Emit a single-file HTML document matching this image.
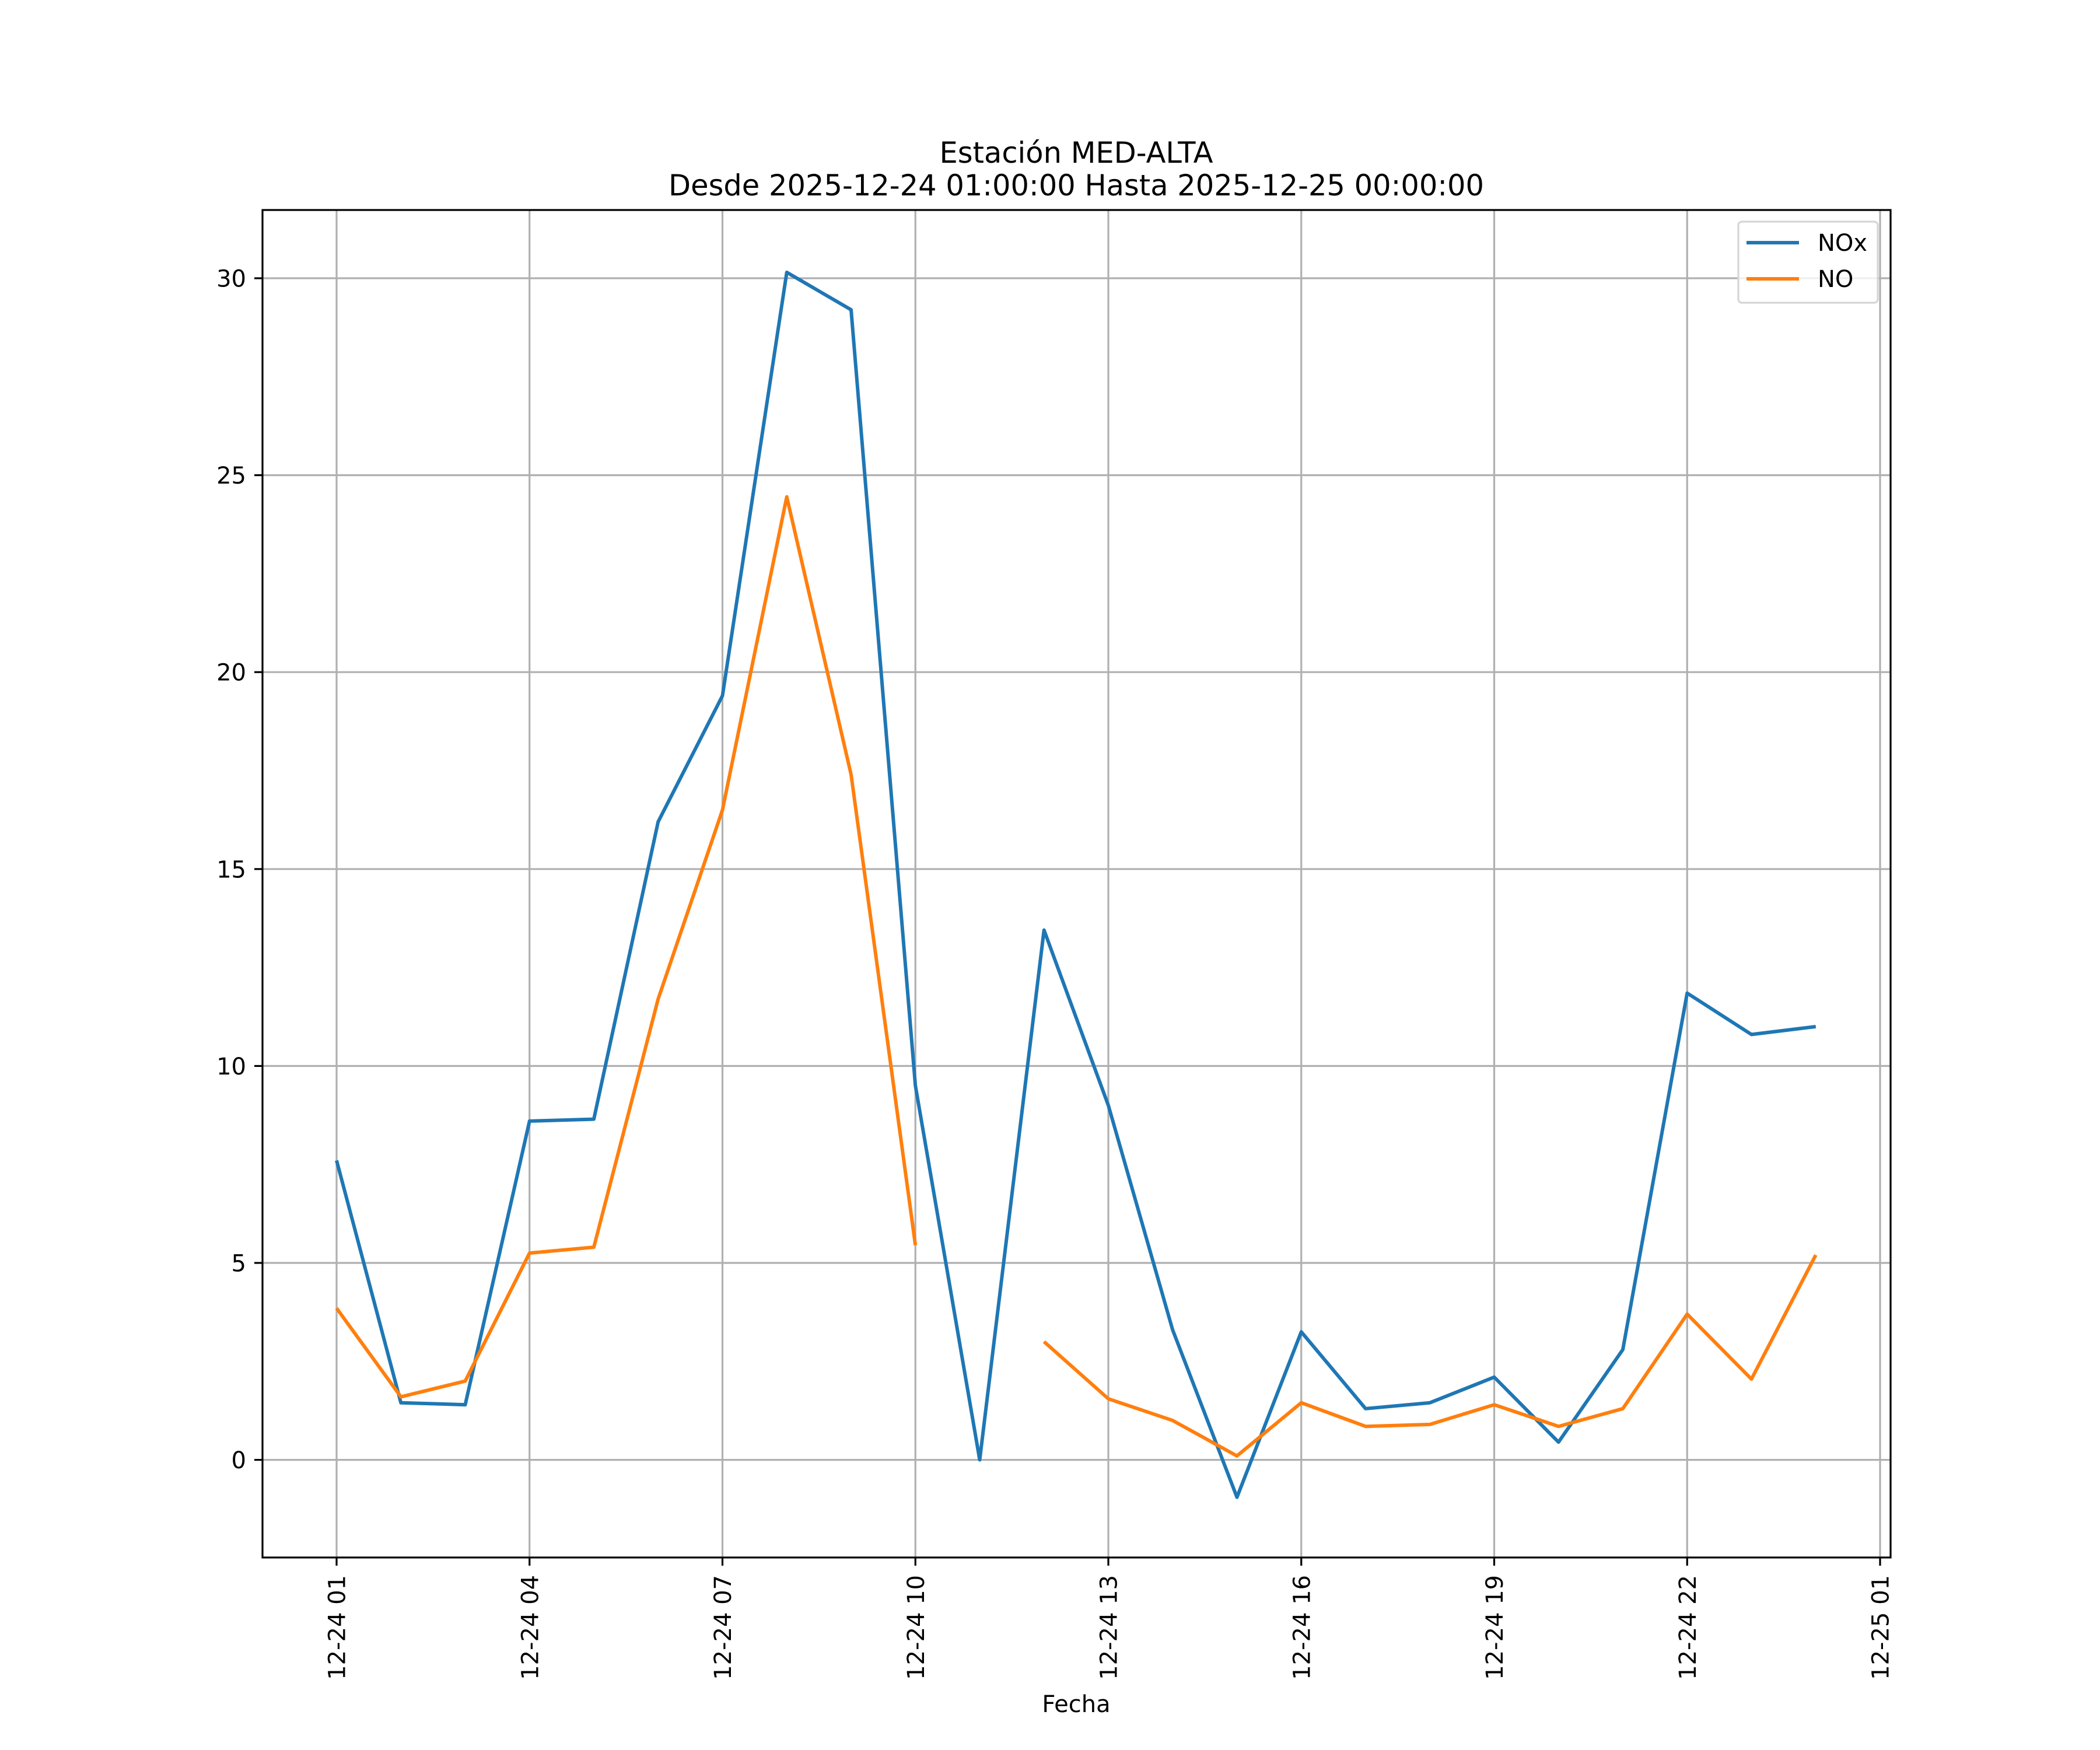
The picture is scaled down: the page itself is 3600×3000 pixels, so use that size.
<!DOCTYPE html>
<html><head><meta charset="utf-8"><style>
html,body{margin:0;padding:0;background:#fff;}
svg{display:block;font-family:"DejaVu Sans","Liberation Sans",sans-serif;}
</style></head><body>
<svg id="chart" width="3600" height="3000" viewBox="0 0 3600 3000" xmlns="http://www.w3.org/2000/svg">
<rect x="0" y="0" width="3600" height="3000" fill="#fff"/>
<text x="1845" y="279" font-size="49.5" text-anchor="middle">Estación MED-ALTA</text>
<text x="1845" y="335" font-size="49.5" text-anchor="middle">Desde 2025-12-24 01:00:00 Hasta 2025-12-25 00:00:00</text>
<g id="grid"></g>
<g id="series"></g>
<rect x="450" y="360" width="2791" height="2310" fill="none" stroke="#000" stroke-width="3.2"/>
<g id="ticks"></g>
<text x="1845" y="2935" font-size="40" text-anchor="middle">Fecha</text>
<g>
<rect x="2980" y="380" width="239" height="139" rx="6" fill="#fff" fill-opacity="0.8" stroke="#d6d6d6" stroke-width="3.2"/>
<line x1="2994" y1="416" x2="3084" y2="416" stroke="#1f77b4" stroke-width="6"/>
<text x="3116" y="430" font-size="40">NOx</text>
<line x1="2994" y1="478" x2="3084" y2="478" stroke="#ff7f0e" stroke-width="6"/>
<text x="3116" y="492" font-size="40">NO</text>
</g>
</svg>
<script>
const hours = [1,2,3,4,5,6,7,8,9,10,11,12,13,14,15,16,17,18,19,20,21,22,23,24];
const noxValues = [7.6,1.45,1.4,8.6,8.65,16.2,19.4,30.15,29.2,9.5,0.0,13.45,9.0,3.3,-0.95,3.25,1.3,1.45,2.1,0.45,2.8,11.85,10.8,11.0];
const noValues = [3.85,1.6,2.0,5.25,5.4,11.7,16.5,24.45,17.4,5.45,null,3.0,1.55,1.0,0.1,1.45,0.85,0.9,1.4,0.85,1.3,3.7,2.05,5.2];
const yTicks = [0,5,10,15,20,25,30];
const xTickHours = [1,4,7,10,13,16,19,22,25];
const xTickLabels = ["12-24 01","12-24 04","12-24 07","12-24 10","12-24 13","12-24 16","12-24 19","12-24 22","12-25 01"];

const NS = "http://www.w3.org/2000/svg";
const plotL = 450, plotR = 3241, plotT = 360, plotB = 2670;
const pxPerHour = (3223-577)/24;
const pxPerUnit = (2502.6-477)/30;
function xs(h){ return 577 + (h-1)*pxPerHour; }
function ys(v){ return 2502.6 - v*pxPerUnit; }

const grid = document.getElementById('grid');
const ticks = document.getElementById('ticks');
yTicks.forEach(v=>{
  const y = ys(v);
  const g = document.createElementNS(NS,'line');
  
  
  g.setAttribute('x1',plotL); g.setAttribute('x2',plotR); g.setAttribute('y1',y); g.setAttribute('y2',y);
  g.setAttribute('stroke','#b0b0b0'); g.setAttribute('stroke-width','3.2');
  grid.appendChild(g);
  const t = document.createElementNS(NS,'line');
  
  
  t.setAttribute('x1',plotL-14); t.setAttribute('x2',plotL); t.setAttribute('y1',y); t.setAttribute('y2',y);
  t.setAttribute('stroke','#000'); t.setAttribute('stroke-width','3.2');
  ticks.appendChild(t);
  const l = document.createElementNS(NS,'text');
  
  
  l.setAttribute('x',plotL-28); l.setAttribute('y',y+14.5);
  l.setAttribute('font-size','40'); l.setAttribute('text-anchor','end');
  l.textContent = String(v);
  ticks.appendChild(l);
});
xTickHours.forEach((h,i)=>{
  const x = xs(h);
  const g = document.createElementNS(NS,'line');
  
  
  g.setAttribute('x1',x); g.setAttribute('x2',x); g.setAttribute('y1',plotT); g.setAttribute('y2',plotB);
  g.setAttribute('stroke','#b0b0b0'); g.setAttribute('stroke-width','3.2');
  grid.appendChild(g);
  const t = document.createElementNS(NS,'line');
  
  
  t.setAttribute('x1',x); t.setAttribute('x2',x); t.setAttribute('y1',plotB); t.setAttribute('y2',plotB+14);
  t.setAttribute('stroke','#000'); t.setAttribute('stroke-width','3.2');
  ticks.appendChild(t);
  const l = document.createElementNS(NS,'text');
  
  
  l.setAttribute('transform','translate('+(x+14.5)+','+(plotB+30)+') rotate(-90)');
  l.setAttribute('font-size','40'); l.setAttribute('text-anchor','end');
  l.textContent = xTickLabels[i];
  ticks.appendChild(l);
});

const series = document.getElementById('series');
function drawSeries(vals, color, name){
  let d = '', pen = false;
  vals.forEach((v,i)=>{
    if(v === null){ pen = false; return; }
    d += (pen ? 'L' : 'M') + xs(hours[i]).toFixed(2) + ',' + ys(v).toFixed(2) + ' ';
    pen = true;
  });
  const p = document.createElementNS(NS,'path');
  
  
  p.setAttribute('d', d);
  p.setAttribute('fill','none'); p.setAttribute('stroke',color);
  p.setAttribute('stroke-width','6'); p.setAttribute('stroke-linejoin','round');
  series.appendChild(p);
}
drawSeries(noxValues,'#1f77b4','nox-line');
drawSeries(noValues,'#ff7f0e','no-line');
</script>
</body></html>
